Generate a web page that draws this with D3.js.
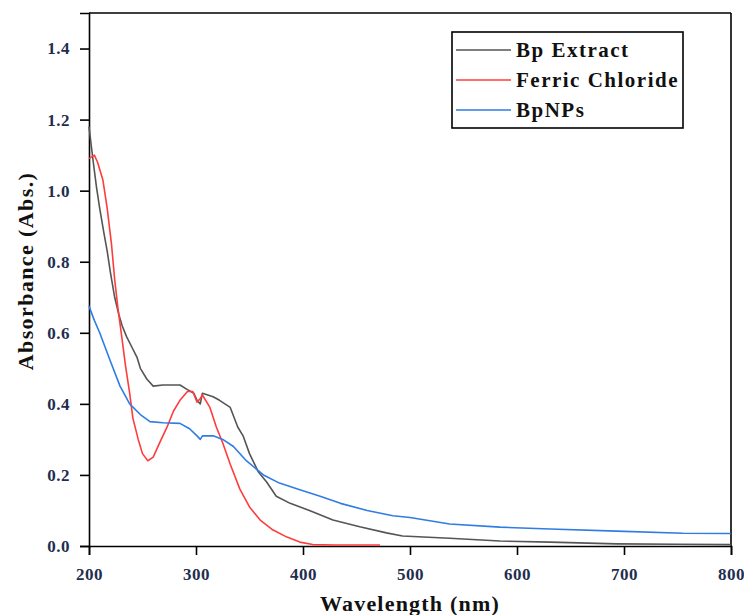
<!DOCTYPE html>
<html>
<head>
<meta charset="utf-8">
<script src="https://cdn.jsdelivr.net/npm/d3@7"></script>
<style>
  html, body { margin: 0; padding: 0; background: #fff; }
  svg { display: block; }
  text { font-family: "Liberation Serif", "Times New Roman", serif; font-weight: bold; }
</style>
</head>
<body>
<svg id="chart" width="744" height="615"></svg>
<script>
// ---- data ----
const seriesNames = ["Bp Extract", "Ferric Chloride", "BpNPs"];
const seriesColors = ["#555555", "#ff3c3c", "#2f7de3"];

const extractWl = [200,202,204,207,210,214,217,220,224,228,231,235,240,245,248,254,260,269,285,292,298,301,304,306,316,322,332,339,344,350,358,366,375,388,406,428,453,478,493,537,584,631,693,750,800];
const extractAbs = [1.18,1.13,1.08,1.01,0.95,0.88,0.83,0.77,0.70,0.65,0.62,0.59,0.56,0.53,0.50,0.47,0.45,0.453,0.453,0.44,0.43,0.41,0.40,0.43,0.42,0.41,0.39,0.335,0.31,0.26,0.21,0.18,0.14,0.12,0.10,0.073,0.054,0.037,0.028,0.022,0.014,0.011,0.006,0.005,0.004];

const ferricWl = [200,205,208,213,217,221,224,227,231,234,238,241,246,250,255,260,266,273,279,285,292,297,301,304,306,313,319,325,332,341,350,360,372,385,397,409,430,472];
const ferricAbs = [1.09,1.10,1.08,1.03,0.95,0.85,0.75,0.67,0.58,0.51,0.43,0.36,0.30,0.26,0.24,0.25,0.29,0.335,0.38,0.41,0.435,0.435,0.405,0.415,0.425,0.39,0.335,0.29,0.23,0.16,0.11,0.073,0.045,0.025,0.011,0.004,0.003,0.003];

const npsWl = [200,205,210,215,220,229,238,248,257,269,285,294,301,304,306,316,325,335,347,363,378,397,416,435,460,484,500,537,584,631,693,755,800];
const npsAbs = [0.675,0.635,0.60,0.56,0.52,0.45,0.40,0.37,0.35,0.347,0.345,0.33,0.31,0.30,0.31,0.31,0.30,0.28,0.24,0.20,0.177,0.158,0.14,0.12,0.10,0.085,0.08,0.062,0.053,0.048,0.042,0.036,0.035];

const xTicks = [200,300,400,500,600,700,800];
const xMinorTicks = [250,350,450,550,650,750];
const yTicks = [0.0,0.2,0.4,0.6,0.8,1.0,1.2,1.4];
const yMinorTicks = [0.1,0.3,0.5,0.7,0.9,1.1,1.3];

const xTitle = "Wavelength (nm)";
const yTitle = "Absorbance (Abs.)";

// ---- layout ----
const svg = d3.select("#chart");
const L = 89, R = 731, T = 13, B = 546;
const x = d3.scaleLinear().domain([200, 800]).range([L, R]);
const y = d3.scaleLinear().domain([0, 1.5]).range([B, T]);
const labelColor = "#1f2e4f";

// frame (top & right)
svg.append("line").attr("x1", L).attr("x2", R).attr("y1", T).attr("y2", T)
  .attr("stroke", "#000").attr("stroke-width", 1.6);
svg.append("line").attr("x1", R).attr("x2", R).attr("y1", T).attr("y2", B)
  .attr("stroke", "#000").attr("stroke-width", 1.6);

// x axis
const gx = svg.append("g").attr("transform", `translate(0,${B})`);
gx.call(d3.axisBottom(x).tickValues(xMinorTicks).tickSize(6).tickFormat(""));
gx.call(d3.axisBottom(x).tickValues(xTicks).tickSize(9).tickPadding(13).tickFormat(d3.format("d")));
// y axis
const gy = svg.append("g").attr("transform", `translate(${L},0)`);
gy.call(d3.axisLeft(y).tickValues(yMinorTicks).tickSize(6).tickFormat(""));
gy.call(d3.axisLeft(y).tickValues(yTicks).tickSize(9).tickPadding(10).tickFormat(d3.format(".1f")));

svg.selectAll(".domain").attr("stroke", "#000").attr("stroke-width", 1.6);
svg.selectAll(".tick line").attr("stroke", "#000").attr("stroke-width", 1.6);
svg.selectAll(".tick text")
  .attr("fill", labelColor)
  .style("font-family", '"Liberation Serif", serif')
  .style("font-weight", "bold")
  .style("font-size", "17px")
  .style("letter-spacing", "0.5px");

// lines
const line = d3.line().x(d => x(d[0])).y(d => y(d[1]));
const series = [
  { name: seriesNames[0], color: seriesColors[0], pts: d3.zip(extractWl, extractAbs) },
  { name: seriesNames[1], color: seriesColors[1], pts: d3.zip(ferricWl, ferricAbs) },
  { name: seriesNames[2], color: seriesColors[2], pts: d3.zip(npsWl, npsAbs) }
];
svg.append("g").selectAll("path").data(series).join("path")
  .attr("d", d => line(d.pts))
  .attr("fill", "none")
  .attr("stroke", d => d.color)
  .attr("stroke-width", 1.6)
  .attr("stroke-linejoin", "round");

// axis titles
svg.append("text").attr("x", (L + R) / 2).attr("y", 611)
  .attr("text-anchor", "middle").style("font-size", "22px").style("letter-spacing", "1.2px")
  .attr("fill", "#111").text(xTitle);
svg.append("text").attr("transform", "translate(33,271) rotate(-90)")
  .attr("text-anchor", "middle").style("font-size", "22px").style("letter-spacing", "1.4px")
  .attr("fill", "#111").text(yTitle);

// legend
const lg = svg.append("g");
lg.append("rect").attr("x", 452).attr("y", 32).attr("width", 231).attr("height", 96)
  .attr("fill", "#fff").attr("stroke", "#000").attr("stroke-width", 1.6);
const rowsY = [50, 80, 110];
series.forEach((s, i) => {
  lg.append("line").attr("x1", 456).attr("x2", 511).attr("y1", rowsY[i]).attr("y2", rowsY[i])
    .attr("stroke", s.color).attr("stroke-width", 1.6);
  lg.append("text").attr("x", 516).attr("y", rowsY[i] + 7)
    .style("font-size", "21px").style("letter-spacing", "1.5px")
    .attr("fill", "#111").text(s.name);
});
</script>
</body>
</html>
